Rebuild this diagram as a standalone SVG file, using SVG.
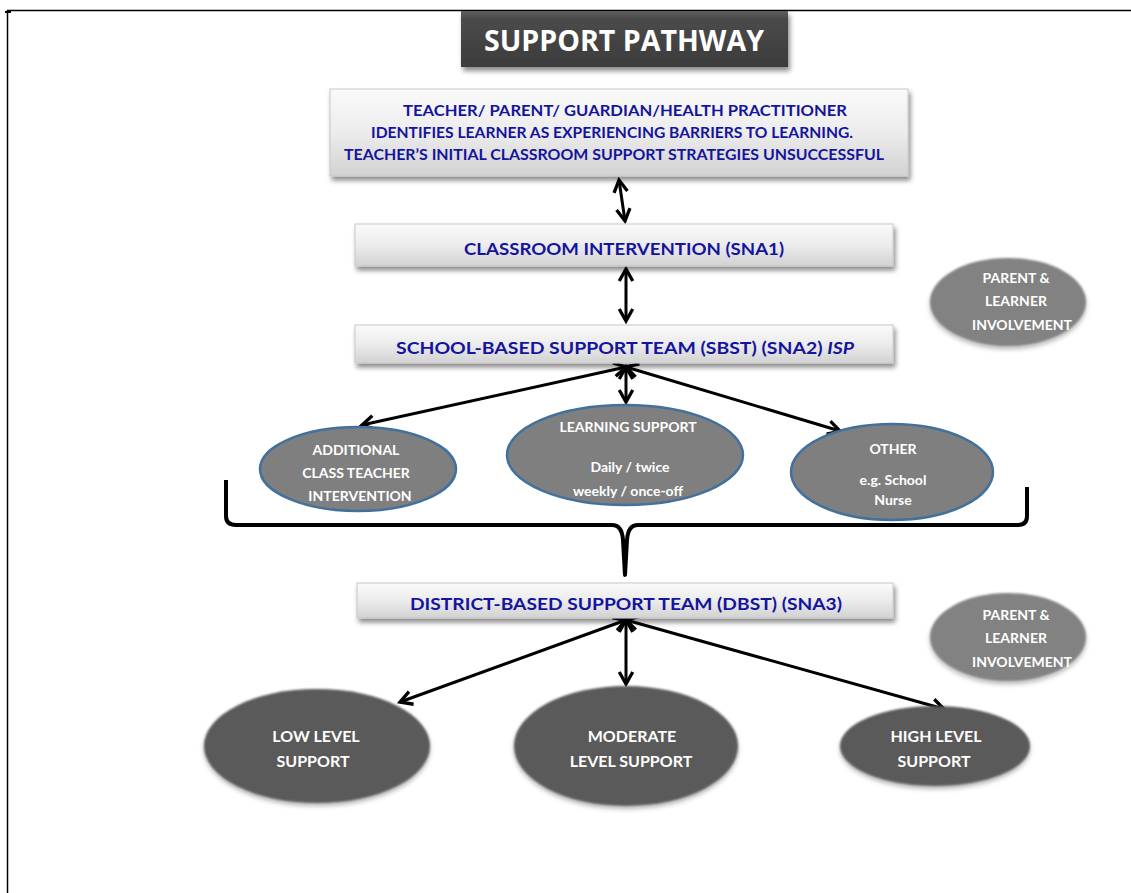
<svg xmlns="http://www.w3.org/2000/svg" width="1131" height="893" viewBox="0 0 1131 893">
<style>
.box{fill:url(#gBox);stroke:#c8c8c8;stroke-width:1;filter:url(#shadow)}
.bt{font-family:Lato,"Open Sans",sans-serif;font-weight:bold;fill:#14149c;text-anchor:middle}
.wt{font-family:Lato,"Open Sans",sans-serif;font-weight:bold;fill:#ffffff;text-anchor:middle;font-size:14px}
.wt2{font-family:Lato,"Open Sans",sans-serif;font-weight:bold;fill:#ffffff;text-anchor:middle;font-size:16px}
.e1{fill:#7f7f7f;stroke:#41719c;stroke-width:2.5}
.e2{fill:#5a5a5a;filter:url(#soft)}
.e3{fill:#828282;filter:url(#soft)}
.con{stroke:#000;stroke-width:3;fill:none;marker-start:url(#ah);marker-end:url(#ah)}
</style>
<defs>
<linearGradient id="gBox" x1="0" y1="0" x2="0" y2="1">
<stop offset="0" stop-color="#fafafa"/>
<stop offset="0.5" stop-color="#ececec"/>
<stop offset="1" stop-color="#d2d2d2"/>
</linearGradient>
<linearGradient id="gTitle" x1="0" y1="0" x2="0" y2="1">
<stop offset="0" stop-color="#5e5e5e"/>
<stop offset="0.15" stop-color="#4a4a4a"/>
<stop offset="1" stop-color="#3c3c3c"/>
</linearGradient>
<filter id="shadow" x="-5%" y="-20%" width="110%" height="150%">
<feDropShadow dx="2" dy="4" stdDeviation="2.5" flood-color="#000" flood-opacity="0.45"/>
</filter>
<filter id="soft" x="-10%" y="-10%" width="120%" height="130%">
<feGaussianBlur stdDeviation="1.2"/>
<feDropShadow dx="0" dy="3" stdDeviation="2" flood-color="#000" flood-opacity="0.3"/>
</filter>
<marker id="ah" viewBox="0 0 12 12" refX="10" refY="6" markerWidth="6" markerHeight="6" orient="auto-start-reverse" markerUnits="strokeWidth">
<path d="M2,1.5 L10,6 L2,10.5" fill="none" stroke="#000" stroke-width="2.2" stroke-linejoin="miter"/>
</marker>
</defs>
<rect width="1131" height="893" fill="#fff"/>
<g id="frame" stroke="#000" stroke-width="1.5">
<line x1="7" y1="10.5" x2="1131" y2="10.5"/>
<line x1="7.5" y1="10" x2="7.5" y2="893"/>
<line x1="5" y1="12" x2="11" y2="12" stroke-width="2"/>
</g>
<g id="title">
<rect x="461" y="11" width="327" height="56" fill="url(#gTitle)" filter="url(#shadow)"/>
<text x="624" y="51" font-family="'Open Sans',sans-serif" font-weight="bold" font-size="29" fill="#fff" text-anchor="middle" textLength="280" lengthAdjust="spacingAndGlyphs">SUPPORT PATHWAY</text>
</g>
<g id="connectors">
<line class="con" x1="619" y1="180" x2="625" y2="221"/>
<line class="con" x1="626" y1="269" x2="626" y2="321"/>
<line class="con" x1="626" y1="367" x2="362" y2="425"/>
<line class="con" x1="626" y1="367" x2="626" y2="402"/>
<line class="con" x1="626" y1="367" x2="840" y2="431"/>
<line class="con" x1="626" y1="620" x2="400" y2="702"/>
<line class="con" x1="626" y1="620" x2="626" y2="684"/>
<line class="con" x1="626" y1="620" x2="944" y2="709"/>
<path d="M226,480 L226,516 Q226,525 236,525 L612,525 Q622,525 623,540 L625,575 L627,540 Q628,525 638,525 L1018,525 Q1027,525 1027,516 L1027,487" fill="none" stroke="#000" stroke-width="4" stroke-linejoin="round"/>
</g>
<g id="n-identify">
<rect class="box" x="330" y="89" width="578" height="87"/>
<text class="bt" x="625" y="116" font-size="15" textLength="444" lengthAdjust="spacingAndGlyphs">TEACHER/ PARENT/ GUARDIAN/HEALTH PRACTITIONER</text>
<text class="bt" x="612" y="138" font-size="15" textLength="482" lengthAdjust="spacingAndGlyphs">IDENTIFIES LEARNER AS EXPERIENCING BARRIERS TO LEARNING.</text>
<text class="bt" x="614" y="160" font-size="15" textLength="540" lengthAdjust="spacingAndGlyphs">TEACHER’S INITIAL CLASSROOM SUPPORT STRATEGIES UNSUCCESSFUL</text>
</g>
<g id="n-classroom">
<rect class="box" x="355" y="224" width="538" height="42"/>
<text class="bt" x="624" y="255" font-size="17" textLength="320" lengthAdjust="spacingAndGlyphs">CLASSROOM INTERVENTION (SNA1)</text>
</g>
<g id="n-sbst">
<rect class="box" x="355" y="325" width="538" height="38"/>
<text class="bt" x="625" y="354" font-size="17" textLength="458" lengthAdjust="spacingAndGlyphs">SCHOOL-BASED SUPPORT TEAM (SBST) (SNA2) <tspan font-style="italic">ISP</tspan></text>
</g>
<g id="n-parent1">
<ellipse class="e3" cx="1008" cy="302" rx="78" ry="44"/>
<text class="wt" x="1016" y="283">PARENT &amp;</text>
<text class="wt" x="1016" y="306">LEARNER</text>
<text class="wt" x="1022" y="330">INVOLVEMENT</text>
</g>
<g id="n-additional">
<ellipse class="e1" cx="358" cy="469" rx="98" ry="42"/>
<text class="wt" x="356" y="455">ADDITIONAL</text>
<text class="wt" x="356" y="478">CLASS TEACHER</text>
<text class="wt" x="360" y="501">INTERVENTION</text>
</g>
<g id="n-learning">
<ellipse class="e1" cx="625" cy="455" rx="118" ry="50"/>
<text class="wt" x="628" y="432">LEARNING SUPPORT</text>
<text class="wt" x="630" y="472">Daily / twice</text>
<text class="wt" x="628" y="496">weekly / once-off</text>
</g>
<g id="n-other">
<ellipse class="e1" cx="892" cy="472" rx="101" ry="48"/>
<text class="wt" x="893" y="454">OTHER</text>
<text class="wt" x="893" y="485">e.g. School</text>
<text class="wt" x="893" y="505">Nurse</text>
</g>
<g id="n-dbst">
<rect class="box" x="357" y="583" width="536" height="35"/>
<text class="bt" x="626" y="610" font-size="17" textLength="432" lengthAdjust="spacingAndGlyphs">DISTRICT-BASED SUPPORT TEAM (DBST) (SNA3)</text>
</g>
<g id="n-parent2">
<ellipse class="e3" cx="1008" cy="637" rx="78" ry="44"/>
<text class="wt" x="1016" y="620">PARENT &amp;</text>
<text class="wt" x="1016" y="643">LEARNER</text>
<text class="wt" x="1022" y="667">INVOLVEMENT</text>
</g>
<g id="n-low">
<ellipse class="e2" cx="317" cy="746" rx="113" ry="57"/>
<text class="wt2" x="316" y="742">LOW LEVEL</text>
<text class="wt2" x="313" y="767">SUPPORT</text>
</g>
<g id="n-moderate">
<ellipse class="e2" cx="626" cy="746" rx="112" ry="60"/>
<text class="wt2" x="632" y="742">MODERATE</text>
<text class="wt2" x="631" y="767">LEVEL SUPPORT</text>
</g>
<g id="n-high">
<ellipse class="e2" cx="935" cy="746" rx="95" ry="40"/>
<text class="wt2" x="936" y="742">HIGH LEVEL</text>
<text class="wt2" x="934" y="767">SUPPORT</text>
</g>
</svg>
